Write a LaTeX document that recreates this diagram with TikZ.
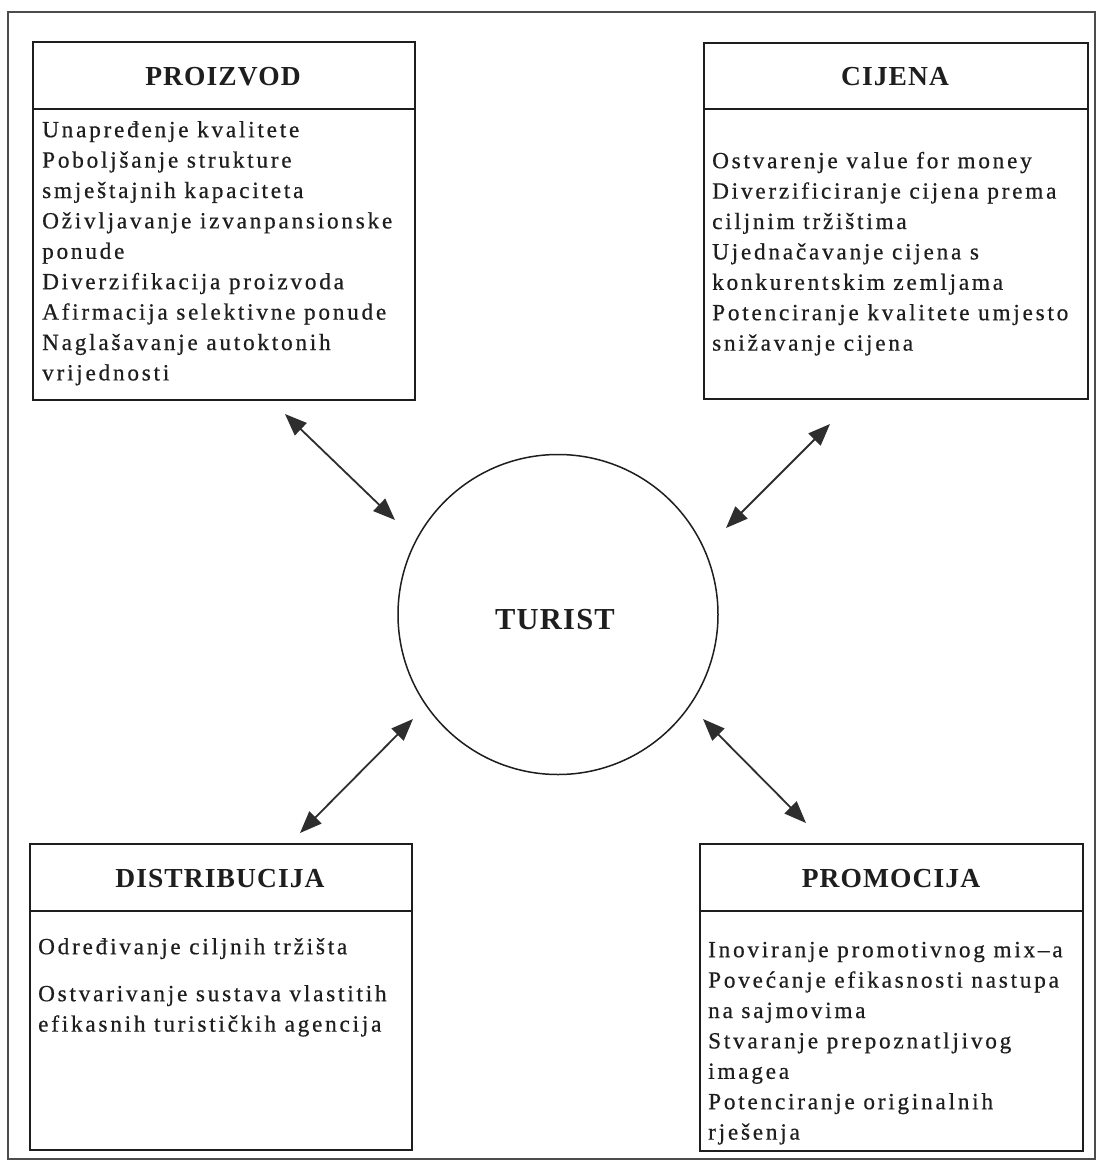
\documentclass[tikz,border=0pt]{standalone}
\usepackage{fontspec}
\setmainfont{Liberation Serif}
\newfontfamily\bodyfont[LetterSpace=12,FakeBold=0.6]{Liberation Serif}
\newfontfamily\headfont[LetterSpace=4]{Liberation Serif}
\usetikzlibrary{arrows.meta}
\definecolor{ink}{HTML}{1E1E1E}
\tikzset{
  boxframe/.style={draw=ink, line width=1.9pt, inner sep=0pt, anchor=north west},
  headtext/.style={font=\headfont\bfseries\fontsize{27.5}{32}\selectfont, text=ink, inner sep=0pt},
  bodytext/.style={font=\bodyfont\fontsize{23.2}{30.4}\selectfont, text=ink, align=left, inner sep=0pt, anchor=north west},
  centertext/.style={font=\headfont\bfseries\fontsize{30.5}{36}\selectfont, text=ink, inner sep=0pt},
  biarrow/.style={{Triangle[length=22pt,width=17pt]}-{Triangle[length=22pt,width=17pt]}, line width=1.8pt, draw=black!82},
  divider/.style={draw=ink, line width=1.7pt}
}
\begin{document}
\begin{tikzpicture}[x=1pt,y=-1pt]
\useasboundingbox (0,0) rectangle (1099,1170);
\fill[white] (0,0) rectangle (1099,1170);
% outer frame
\draw[line width=1.3pt, draw=black!70] (8,12) rectangle (1095,1159);

% PROIZVOD
\node[boxframe, minimum width=382pt, minimum height=358pt] (prB) at (32,41) {};
\draw[divider] ([yshift=-68pt]prB.north west) -- ([yshift=-68pt]prB.north east);
\node[headtext] (prH) at (223,77) {PROIZVOD};
\node[bodytext] (prT) at (42,115.72) {\strut Unapređenje kvalitete\\
Poboljšanje strukture\\
smještajnih kapaciteta\\
Oživljavanje izvanpansionske\\
ponude\\
Diverzifikacija proizvoda\\
Afirmacija selektivne ponude\\
Naglašavanje autoktonih\\
vrijednosti};

% CIJENA
\node[boxframe, minimum width=384pt, minimum height=356pt] (ciB) at (703,42) {};
\draw[divider] ([yshift=-67pt]ciB.north west) -- ([yshift=-67pt]ciB.north east);
\node[headtext] (ciH) at (895,77) {CIJENA};
\node[bodytext] (ciT) at (712,146.72) {\strut Ostvarenje value for money\\
Diverzificiranje cijena prema\\
ciljnim tržištima\\
Ujednačavanje cijena s\\
konkurentskim zemljama\\
Potenciranje kvalitete umjesto\\
snižavanje cijena};

% DISTRIBUCIJA
\node[boxframe, minimum width=382pt, minimum height=306pt] (diB) at (29,843) {};
\draw[divider] ([yshift=-68pt]diB.north west) -- ([yshift=-68pt]diB.north east);
\node[headtext] (diH) at (220,879) {DISTRIBUCIJA};
\node[bodytext] (diT) at (38,932.72) {\strut Određivanje ciljnih tržišta\\[16.6pt]
Ostvarivanje sustava vlastitih\\
efikasnih turističkih agencija};

% PROMOCIJA
\node[boxframe, minimum width=383pt, minimum height=307pt] (poB) at (699,843) {};
\draw[divider] ([yshift=-68pt]poB.north west) -- ([yshift=-68pt]poB.north east);
\node[headtext] (poH) at (891,879) {PROMOCIJA};
\node[bodytext] (poT) at (708,935.72) {\strut Inoviranje promotivnog mix–a\\
Povećanje efikasnosti nastupa\\
na sajmovima\\
Stvaranje prepoznatljivog\\
imagea\\
Potenciranje originalnih\\
rješenja};

% TURIST circle
\node[draw=ink, line width=1.5pt, circle, minimum size=320pt, inner sep=0pt] (tu) at (558,614.5) {};
\node[centertext] (tuT) at (555,620) {TURIST};

% arrow end points
\coordinate (nwA) at (285,414);
\coordinate (nwB) at (395,520);
\coordinate (neA) at (830,424);
\coordinate (neB) at (726,528);
\coordinate (swA) at (413,719);
\coordinate (swB) at (300,833);
\coordinate (seA) at (703,719);
\coordinate (seB) at (806,823);
\draw[biarrow] (nwA) -- (nwB);
\draw[biarrow] (neA) -- (neB);
\draw[biarrow] (swA) -- (swB);
\draw[biarrow] (seA) -- (seB);
\end{tikzpicture}
\end{document}
